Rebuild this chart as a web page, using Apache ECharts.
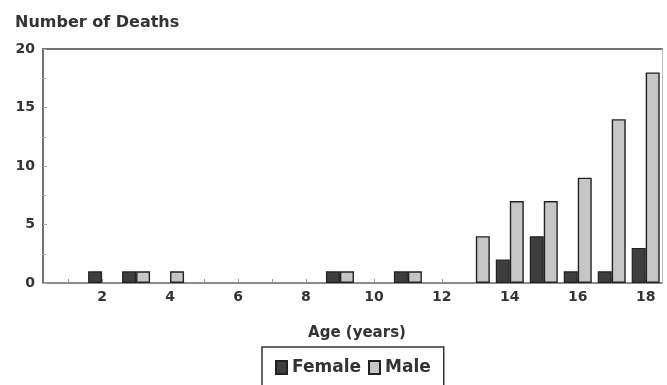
<!DOCTYPE html>
<html>
<head>
<meta charset="utf-8">
<script src="https://cdn.jsdelivr.net/npm/echarts@6/dist/echarts.min.js"></script>
<style>html,body{margin:0;padding:0;background:#fff;}#c{width:667px;height:385px;}</style>
</head>
<body>
<div id="c"></div>
<script>
var ages = [1,2,3,4,5,6,7,8,9,10,11,12,13,14,15,16,17,18];
var female = [0,1,1,0,0,0,0,0,1,0,1,0,0,2,4,1,1,3];
var male   = [0,0,1,1,0,0,0,0,1,0,1,0,4,7,7,9,14,18];
var xTickLabels = [2,4,6,8,10,12,14,16,18];
var yTickLabels = [0,5,10,15,20];

function pairs(vals){
  var out = [];
  for (var i = 0; i < ages.length; i++) if (vals[i] > 0) out.push([ages[i], vals[i]]);
  return out;
}
var FONT = 'DejaVu Sans';
var chart = echarts.init(document.getElementById('c'), null, {renderer:'canvas'});
chart.setOption({
  animation: false,
  backgroundColor: '#fff',
  title: {
    text: 'Number of Deaths', left: 10, top: 10,
    textStyle: {fontFamily: FONT, fontWeight: 'bold', fontSize: 16, color: '#333'}
  },
  legend: {
    left: 262, top: 347,
    padding: [12, 13, 13, 13],
    borderColor: '#333', borderWidth: 1.5,
    icon: 'rect',
    itemWidth: 11, itemHeight: 13, itemGap: 7,
    textStyle: {fontFamily: FONT, fontWeight: 'bold', fontSize: 17, color: '#333'},
    data: ['Female', 'Male']
  },
  grid: {left: 43, right: 5, top: 49, bottom: 102},
  xAxis: [{
    type: 'value', min: 0.26, max: 18.48,
    name: 'Age (years)', nameLocation: 'middle', nameGap: 43,
    nameTextStyle: {fontFamily: FONT, fontWeight: 'bold', fontSize: 15, color: '#333', padding: [0,0,0,9]},
    axisLine: {show: true, lineStyle: {color: '#666', width: 1.5}},
    axisTick: {show: true, inside: true, length: 4, customValues: ages, lineStyle: {color: '#999'}},
    axisLabel: {customValues: xTickLabels, margin: 7, fontFamily: FONT, fontWeight: 'bold', fontSize: 14, color: '#333'},
    splitLine: {show: false}
  }, {
    type: 'value', position: 'top', min: 0.26, max: 18.48,
    axisLine: {show: true, onZero: false, lineStyle: {color: '#444', width: 1.5}},
    axisTick: {show: false}, axisLabel: {show: false}, splitLine: {show: false}
  }],
  yAxis: [{
    type: 'value', min: 0, max: 20, interval: 5,
    axisLine: {show: true, onZero: false, lineStyle: {color: '#444', width: 1.5}},
    axisTick: {show: true, inside: true, length: 4, lineStyle: {color: '#aaa'}},
    minorTick: {show: true, splitNumber: 2, length: 3, lineStyle: {color: '#aaa'}},
    axisLabel: {margin: 8, fontFamily: FONT, fontWeight: 'bold', fontSize: 14, color: '#333',
      formatter: function(v){ return yTickLabels.indexOf(v) >= 0 ? String(v) : ''; }},
    splitLine: {show: false}
  }, {
    type: 'value', position: 'right', min: 0, max: 20,
    axisLine: {show: true, onZero: false, lineStyle: {color: '#bbb', width: 1}},
    axisTick: {show: false}, axisLabel: {show: false}, splitLine: {show: false}
  }],
  series: [{
    name: 'Female', type: 'bar', data: pairs(female),
    barWidth: 14, barGap: '0%',
    itemStyle: {color: '#3e3e3e', borderColor: '#222', borderWidth: 1.2}
  }, {
    name: 'Male', type: 'bar', data: pairs(male),
    barWidth: 14, barGap: '0%',
    itemStyle: {color: '#c6c6c6', borderColor: '#222', borderWidth: 1.4}
  }]
});
</script>
</body>
</html>
